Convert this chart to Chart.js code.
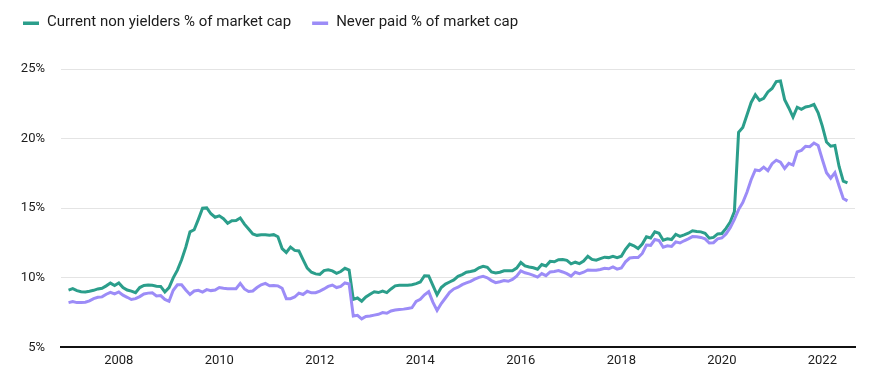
<!DOCTYPE html>
<html>
<head>
<meta charset="utf-8">
<script src="https://cdn.jsdelivr.net/npm/chart.js@4"></script>
<style>
  html, body { margin: 0; padding: 0; background: #ffffff; }
  #wrap { width: 890px; height: 382px; }
</style>
</head>
<body>
<div id="wrap"><canvas id="c" width="890" height="382"></canvas></div>
<script>
// ---- Data (monthly, Jan 2007 – Jul 2022) ----
const startYear = 2007;
const pointCount = 187;
const months = [];
for (let i = 0; i < pointCount; i++) {
  const y = startYear + Math.floor(i / 12);
  const m = (i % 12) + 1;
  months.push(y + '-' + String(m).padStart(2, '0'));
}

const seriesNames = ['Current non yielders % of market cap', 'Never paid % of market cap'];

const currentNonYielders = [
  9.12, 9.22, 9.08, 9.0, 8.98, 9.03, 9.1, 9.2, 9.25, 9.42, 9.62, 9.45,
  9.63, 9.3, 9.12, 9.04, 8.93, 9.3, 9.45, 9.48, 9.46, 9.4, 9.38, 8.98,
  9.3, 10.0, 10.55, 11.3, 12.2, 13.3, 13.45, 14.2, 15.0, 15.02, 14.6, 14.35,
  14.45, 14.25, 13.92, 14.1, 14.12, 14.3, 13.85, 13.5, 13.15, 13.05, 13.1, 13.1,
  13.05, 13.1, 12.95, 12.1, 11.82, 12.2, 11.97, 11.93, 11.3, 10.7, 10.4, 10.28,
  10.25, 10.52, 10.57, 10.5, 10.32, 10.45, 10.68, 10.55, 8.45, 8.55, 8.32, 8.62,
  8.82, 9.0, 8.94, 9.05, 8.94, 9.2, 9.42, 9.46, 9.46, 9.46, 9.5, 9.58,
  9.7, 10.15, 10.13, 9.45, 8.78, 9.3, 9.55, 9.7, 9.85, 10.1, 10.23, 10.4,
  10.45, 10.52, 10.72, 10.83, 10.75, 10.42, 10.35, 10.4, 10.5, 10.5, 10.5, 10.7,
  11.1, 10.85, 10.78, 10.72, 10.62, 10.95, 10.85, 11.18, 11.15, 11.3, 11.32, 11.25,
  11.0, 11.12, 11.02, 11.2, 11.55, 11.32, 11.26, 11.38, 11.48, 11.45, 11.55, 11.45,
  11.55, 12.05, 12.42, 12.3, 12.1, 12.42, 12.95, 12.86, 13.3, 13.2, 12.7, 12.8,
  12.75, 13.12, 12.98, 13.08, 13.2, 13.38, 13.33, 13.3, 13.2, 12.85, 12.9, 13.15,
  13.18, 13.55, 14.0, 14.75, 20.45, 20.8, 21.7, 22.6, 23.15, 22.75, 22.9, 23.35,
  23.6, 24.1, 24.14, 22.8, 22.2, 21.55, 22.25, 22.1, 22.27, 22.33, 22.45, 21.85,
  20.9, 19.75, 19.45, 19.5, 18.0, 16.95, 16.82
];

const neverPaid = [
  8.22, 8.3, 8.22, 8.22, 8.25, 8.34, 8.5, 8.6, 8.63, 8.82, 8.96, 8.84,
  8.98, 8.75, 8.6, 8.44, 8.5, 8.65, 8.84, 8.9, 8.93, 8.7, 8.72, 8.45,
  8.31, 9.1, 9.5, 9.5, 9.12, 8.8, 9.05, 9.1, 8.97, 9.15, 9.08, 9.12,
  9.3, 9.25, 9.22, 9.22, 9.22, 9.6, 9.2, 9.02, 9.05, 9.3, 9.5, 9.6,
  9.43, 9.45, 9.42, 9.25, 8.5, 8.5, 8.62, 8.9, 8.8, 9.03, 8.92, 8.93,
  9.05, 9.2, 9.38, 9.48, 9.3, 9.38, 9.63, 9.56, 7.25, 7.3, 7.05, 7.22,
  7.25, 7.32, 7.38, 7.5, 7.45, 7.62, 7.68, 7.72, 7.75, 7.8, 7.85, 8.3,
  8.45, 8.78, 9.0, 8.25, 7.65, 8.15, 8.55, 8.95, 9.2, 9.32, 9.51, 9.63,
  9.75, 9.9, 10.03, 10.1, 10.0, 9.8, 9.65, 9.72, 9.8, 9.75, 9.88, 10.12,
  10.5, 10.36, 10.28, 10.18, 10.05, 10.3, 10.15, 10.42, 10.45, 10.52, 10.42, 10.3,
  10.12, 10.4, 10.3, 10.4, 10.56, 10.54, 10.54, 10.6, 10.68, 10.65, 10.78, 10.62,
  10.7, 11.15, 11.42, 11.45, 11.45, 11.75, 12.35, 12.33, 12.75, 12.68, 12.2, 12.3,
  12.25, 12.58, 12.5, 12.66, 12.8, 12.96, 12.95, 12.9, 12.8, 12.5, 12.52, 12.8,
  12.86, 13.15, 13.6, 14.2, 14.9, 15.4, 16.15, 17.05, 17.75, 17.7, 17.95, 17.7,
  18.2, 18.45, 18.3, 17.85, 18.22, 18.1, 19.05, 19.15, 19.45, 19.42, 19.68, 19.5,
  18.5, 17.55, 17.15, 17.55, 16.6, 15.7, 15.53
];

const xTickYears = [2008, 2010, 2012, 2014, 2016, 2018, 2020, 2022];
const yTickValues = [5, 10, 15, 20, 25];

// ---- Build ----
function monthToYear(label) {
  const [y, m] = label.split('-').map(Number);
  return y + (m - 1) / 12;
}
const toPoints = arr => arr.map((v, i) => ({ x: monthToYear(months[i]), y: v }));

const GREEN = '#2b9e8b';
const PURPLE = '#9c8cf7';
const TEXT = '#1c1c1c';

Chart.defaults.font.family = 'Roboto, "DejaVu Sans", sans-serif';
Chart.defaults.color = TEXT;

const legendPlugin = {
  id: 'topLegend',
  afterDraw(chart) {
    const ctx = chart.ctx;
    ctx.save();
    ctx.font = '15px Roboto, "DejaVu Sans", sans-serif';
    ctx.textBaseline = 'middle';
    ctx.textAlign = 'left';
    let x = 23;
    const yMid = 22;
    chart.data.datasets.forEach(ds => {
      ctx.fillStyle = ds.borderColor;
      ctx.fillRect(x, 21.5, 16, 3.5);
      x += 24;
      ctx.fillStyle = TEXT;
      ctx.fillText(ds.label, x, yMid);
      x += ctx.measureText(ds.label).width + 21;
    });
    ctx.restore();
  }
};

new Chart(document.getElementById('c'), {
  type: 'line',
  data: {
    datasets: [
      {
        label: seriesNames[0],
        data: toPoints(currentNonYielders),
        borderColor: GREEN,
        backgroundColor: GREEN,
        borderWidth: 3,
        pointRadius: 0,
        tension: 0,
        order: 1
      },
      {
        label: seriesNames[1],
        data: toPoints(neverPaid),
        borderColor: PURPLE,
        backgroundColor: PURPLE,
        borderWidth: 3,
        pointRadius: 0,
        tension: 0,
        order: 0
      }
    ]
  },
  options: {
    responsive: false,
    animation: false,
    layout: { padding: { top: 69, left: 2, right: 35, bottom: 7 } },
    plugins: {
      legend: { display: false },
      tooltip: { enabled: false }
    },
    scales: {
      x: {
        type: 'linear',
        min: 2006.85,
        max: 2022.65,
        afterBuildTicks: scale => { scale.ticks = xTickYears.map(v => ({ value: v })); },
        ticks: {
          font: { size: 13 },
          color: TEXT,
          padding: 6,
          maxRotation: 0,
          autoSkip: false,
          callback: v => String(v)
        },
        grid: { display: false, drawTicks: false },
        border: { display: true, color: '#111111', width: 2 }
      },
      y: {
        min: 5,
        max: 25,
        afterBuildTicks: scale => { scale.ticks = yTickValues.map(v => ({ value: v })); },
        afterFit: scale => { scale.width = 59; },
        ticks: {
          font: { size: 13 },
          color: TEXT,
          padding: 16,
          callback: v => v + '%'
        },
        grid: {
          drawTicks: false,
          color: ctx => (ctx.tick && ctx.tick.value === 5) ? 'rgba(0,0,0,0)' : '#e4e4e4',
          lineWidth: 1
        },
        border: { display: false }
      }
    }
  },
  plugins: [legendPlugin]
});
</script>
</body>
</html>
